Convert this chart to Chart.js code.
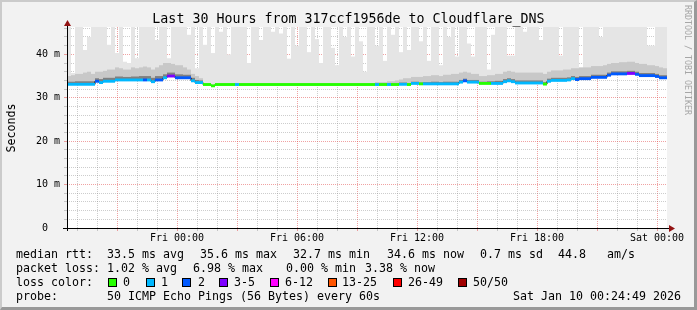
<!DOCTYPE html>
<html>
<head>
<meta charset="utf-8">
<title>Smokeping Cloudflare_DNS</title>
<script src="https://cdn.jsdelivr.net/npm/chart.js@4.4.1/dist/chart.umd.min.js"></script>
<style>
  html, body { margin: 0; padding: 0; background: #f2f2f2; }
  #page { position: relative; width: 697px; height: 310px; overflow: hidden; background: #f2f2f2;
          font-family: "DejaVu Sans Mono", monospace; color: #000; }
  #chart { position: absolute; left: 0; top: 0; }
  .title { position: absolute; left: 0; top: 11px; width: 697px; text-align: center;
           font-size: 13.3px; line-height: 16px; white-space: pre; }
  .ylabel { position: absolute; left: -19.5px; top: 121px; width: 60px; height: 14px; line-height: 14px;
            text-align: center; font-size: 11.63px; transform: rotate(-90deg); }
  .mark { position: absolute; left: 683px; top: 5px; width: 10px; writing-mode: vertical-rl;
          font-size: 8.3px; line-height: 10px; color: #a6a6a6; white-space: pre; }
  .lg { position: absolute; font-size: 11.63px; line-height: 14px; white-space: pre; }
  .sw { position: absolute; width: 9px; height: 9px; box-sizing: border-box; border: 1px solid #000; top: 278px; }
  .frame { position: absolute; left: 0; top: 0; width: 697px; height: 310px; box-sizing: border-box;
           border-style: solid; border-width: 2px 3px 3px 2px; border-color: #cbcbcb #999 #999 #cbcbcb;
           pointer-events: none; }
</style>
</head>
<body>
<div id="page">
  <canvas id="chart" width="697" height="310"></canvas>
  <div class="title">Last 30 Hours from 317ccf1956de to Cloudflare_DNS</div>
  <div class="ylabel">Seconds</div>
  <div class="mark">RRDTOOL / TOBI OETIKER</div>

  <div class="lg" style="left:16px;top:247px">median rtt:</div>
  <div class="lg" style="left:107px;top:247px">33.5 ms avg</div>
  <div class="lg" style="left:200px;top:247px">35.6 ms max</div>
  <div class="lg" style="left:293px;top:247px">32.7 ms min</div>
  <div class="lg" style="left:387px;top:247px">34.6 ms now</div>
  <div class="lg" style="left:480px;top:247px">0.7 ms sd</div>
  <div class="lg" style="left:558px;top:247px">44.8   am/s</div>

  <div class="lg" style="left:16px;top:261px">packet loss:</div>
  <div class="lg" style="left:107px;top:261px">1.02 % avg</div>
  <div class="lg" style="left:193px;top:261px">6.98 % max</div>
  <div class="lg" style="left:286px;top:261px">0.00 % min</div>
  <div class="lg" style="left:365px;top:261px">3.38 % now</div>

  <div class="lg" style="left:16px;top:275px">loss color:</div>
  <div id="lossLegend"></div>

  <div class="lg" style="left:16px;top:289px">probe:</div>
  <div class="lg" style="left:107px;top:289px">50 ICMP Echo Pings (56 Bytes) every 60s</div>
  <div class="lg" style="left:513px;top:289px">Sat Jan 10 00:24:49 2026</div>

  <div class="frame"></div>
</div>

<script>
// 150 steps of 12 minutes, first step starts Thu 18:30 (-330 min from Fri 00:00)
const startMin = -330;
const stepMin = 12;

// median rtt in ms
const median = [
  33.1, 33.1, 33.1, 33.1, 33.1, 33.1, 33.1, 33.8, 33.5, 33.8,
  33.8, 33.8, 34.1, 34.1, 34.1, 34.1, 34.1, 34.1, 34.1, 34.1,
  34.1, 33.7, 34.1, 34.1, 34.6, 35.0, 35.0, 34.6, 34.6, 34.6,
  34.6, 33.9, 33.5, 33.5, 33.05, 33.05, 32.75, 33.05, 33.05, 33.05,
  33.05, 33.05, 33.05, 33.05, 33.05, 33.05, 33.05, 33.05, 33.05, 33.05,
  33.05, 33.05, 33.05, 33.05, 33.05, 33.05, 33.05, 33.05, 33.05, 33.05,
  33.05, 33.05, 33.05, 33.05, 33.05, 33.05, 33.05, 33.05, 33.05, 33.05,
  33.05, 33.05, 33.05, 33.05, 33.05, 33.05, 33.05, 33.05, 33.05, 33.05,
  33.05, 33.05, 33.05, 33.1, 33.1, 33.05, 33.3, 33.3, 33.2, 33.2,
  33.2, 33.2, 33.2, 33.2, 33.2, 33.2, 33.2, 33.2, 33.6, 33.9,
  33.6, 33.6, 33.6, 33.3, 33.3, 33.3, 33.3, 33.3, 33.3, 33.7,
  33.9, 33.7, 33.4, 33.4, 33.4, 33.4, 33.4, 33.4, 33.4, 33.15,
  33.8, 34.0, 34.0, 34.0, 34.0, 34.1, 34.4, 34.2, 34.4, 34.4,
  34.4, 34.7, 34.7, 34.7, 34.7, 35.2, 35.5, 35.5, 35.5, 35.5,
  35.6, 35.6, 35.4, 35.1, 35.1, 35.1, 35.1, 34.9, 34.6, 34.6
];

// lost pings (of 50) per step
const loss = [
  1, 1, 1, 1, 1, 1, 1, 2, 1, 1,
  1, 1, 1, 1, 1, 1, 1, 1, 1, 2,
  1, 1, 2, 2, 1, 3, 3, 2, 2, 2,
  2, 1, 1, 1, 0, 0, 0, 0, 0, 0,
  0, 0, 1, 0, 0, 0, 0, 0, 0, 0,
  0, 0, 0, 0, 0, 0, 0, 0, 0, 0,
  0, 0, 0, 0, 0, 0, 0, 0, 0, 0,
  0, 0, 0, 0, 0, 0, 0, 1, 0, 0,
  1, 0, 0, 1, 1, 0, 1, 1, 0, 1,
  1, 1, 1, 1, 1, 1, 1, 1, 1, 2,
  1, 1, 1, 0, 0, 0, 1, 1, 1, 1,
  1, 1, 1, 1, 1, 1, 1, 1, 1, 0,
  1, 1, 1, 1, 1, 1, 1, 2, 2, 2,
  2, 2, 2, 2, 2, 2, 2, 2, 2, 2,
  3, 3, 2, 2, 2, 2, 2, 2, 2, 2
];

// top of the light smoke (slowest ping), ms
const smokeTop = [
  46.3, 35.7, 46.3, 46.3, 41.0, 44.0, 46.3, 46.3, 46.3, 46.3,
  42.2, 46.3, 40.3, 46.3, 38.3, 38.0, 46.3, 39.1, 46.3, 46.3,
  46.3, 46.3, 43.3, 46.3, 46.3, 39.1, 46.3, 46.3, 46.3, 46.3,
  44.5, 46.3, 36.8, 46.3, 42.2, 46.3, 40.3, 46.3, 45.2, 46.3,
  40.0, 46.3, 46.3, 46.3, 46.3, 38.0, 46.3, 46.3, 43.3, 46.3,
  46.3, 45.2, 46.3, 44.8, 46.3, 39.0, 46.3, 42.0, 46.3, 46.3,
  40.5, 46.3, 43.5, 38.0, 46.3, 46.3, 41.5, 37.5, 46.3, 44.0,
  46.3, 39.5, 46.3, 43.0, 36.0, 46.3, 46.3, 42.0, 46.3, 38.5,
  46.3, 44.5, 46.3, 40.5, 46.3, 41.0, 46.3, 46.3, 43.0, 46.3,
  38.5, 46.3, 46.3, 37.5, 46.3, 44.0, 46.3, 39.5, 46.3, 46.3,
  42.5, 39.5, 46.3, 46.3, 46.3, 36.5, 44.5, 46.3, 46.3, 46.3,
  39.7, 39.7, 46.3, 46.3, 45.2, 46.3, 46.3, 46.3, 43.3, 46.3,
  46.3, 46.3, 46.3, 39.7, 46.3, 46.3, 46.3, 46.3, 36.9, 46.3,
  46.3, 46.3, 46.3, 44.0, 46.3, 46.3, 46.3, 46.3, 46.3, 46.3,
  46.3, 46.3, 46.3, 46.3, 46.3, 42.0, 42.0, 46.3, 46.3, 46.3
];

// top of the medium smoke, ms
const smokeMid = [
  35.0, 35.2, 35.5, 35.5, 35.8, 36.0, 35.5, 36.0, 36.0, 36.2,
  36.5, 36.5, 37.0, 36.8, 36.5, 36.5, 37.0, 36.8, 37.0, 37.2,
  37.0, 36.5, 37.0, 37.5, 38.0, 38.0, 37.8, 37.5, 37.5, 37.0,
  36.5, 35.5, 35.0, 34.5, 33.3, 33.3, 33.0, 33.3, 33.3, 33.3,
  33.3, 33.3, 33.3, 33.3, 33.3, 33.3, 33.3, 33.3, 33.3, 33.3,
  33.3, 33.3, 33.3, 33.3, 33.3, 33.3, 33.3, 33.3, 33.3, 33.3,
  33.3, 33.3, 33.3, 33.3, 33.3, 33.3, 33.3, 33.3, 33.3, 33.3,
  33.3, 33.3, 33.3, 33.3, 33.3, 33.3, 33.3, 33.6, 33.6, 33.6,
  33.8, 33.8, 34.0, 34.2, 34.5, 34.5, 34.8, 34.8, 34.8, 35.0,
  35.0, 35.2, 35.2, 35.0, 35.3, 35.3, 35.5, 35.5, 35.8, 36.0,
  35.8, 35.5, 35.5, 35.0, 35.0, 35.2, 35.2, 35.5, 35.5, 36.0,
  36.2, 36.0, 35.8, 35.8, 35.8, 35.8, 35.8, 35.8, 35.8, 35.5,
  36.0, 36.3, 36.3, 36.3, 36.5, 36.5, 36.8, 36.8, 37.0, 37.0,
  37.0, 37.3, 37.3, 37.3, 37.5, 37.8, 38.0, 38.0, 38.2, 38.2,
  38.3, 38.3, 38.0, 37.8, 37.8, 37.5, 37.5, 37.3, 37.0, 36.8
];

// top of the dense smoke just above the median, ms
const smokeDark = [
  33.7, 33.7, 33.8, 33.8, 33.8, 33.8, 33.8, 34.5, 34.3, 34.6,
  34.6, 34.6, 34.9, 34.9, 34.8, 34.8, 34.9, 34.9, 35.0, 35.0,
  35.0, 34.6, 35.0, 35.0, 35.4, 35.8, 35.8, 35.4, 35.4, 35.3,
  35.3, 34.6, 34.1, 34.0, 33.2, 33.2, 32.9, 33.2, 33.2, 33.2,
  33.2, 33.2, 33.2, 33.2, 33.2, 33.2, 33.2, 33.2, 33.2, 33.2,
  33.2, 33.2, 33.2, 33.2, 33.2, 33.2, 33.2, 33.2, 33.2, 33.2,
  33.2, 33.2, 33.2, 33.2, 33.2, 33.2, 33.2, 33.2, 33.2, 33.2,
  33.2, 33.2, 33.2, 33.2, 33.2, 33.2, 33.2, 33.3, 33.3, 33.3,
  33.4, 33.3, 33.3, 33.5, 33.5, 33.3, 33.7, 33.7, 33.5, 33.6,
  33.6, 33.7, 33.7, 33.6, 33.7, 33.7, 33.7, 33.7, 34.1, 34.4,
  34.1, 34.1, 34.1, 33.7, 33.7, 33.8, 33.8, 33.9, 33.9, 34.3,
  34.5, 34.3, 34.0, 34.0, 34.0, 34.0, 34.0, 34.0, 34.0, 33.6,
  34.4, 34.6, 34.6, 34.6, 34.6, 34.7, 35.0, 34.8, 35.0, 35.0,
  35.0, 35.3, 35.3, 35.3, 35.3, 35.8, 36.1, 36.1, 36.1, 36.1,
  36.2, 36.2, 36.0, 35.7, 35.7, 35.7, 35.7, 35.5, 35.2, 35.2
];

// axis labels
const xLabelTimes = [0, 360, 720, 1080, 1440];
const xTickLabels = ['Fri 00:00', 'Fri 06:00', 'Fri 12:00', 'Fri 18:00', 'Sat 00:00'];
const yLabelValues = [0, 10, 20, 30, 40];
const yTickLabels = ['0  ', '10 m', '20 m', '30 m', '40 m'];

// loss legend
const lossLabels = ['0', '1', '2', '3-5', '6-12', '13-25', '26-49', '50/50'];
const lossColors = ['#26ff00', '#00b8ff', '#0059ff', '#7e00ff', '#ff00ff', '#ff5500', '#ff0000', '#a10000'];
const lossUpper = [0, 1, 2, 5, 12, 25, 49, 50];

function lossColor(n) {
    const i = lossUpper.findIndex(u => n <= u);
    return lossColors[i < 0 ? lossColors.length - 1 : i];
}

// legend swatches
const swatchX = [108, 146, 182, 219, 270, 328, 393, 458];
const swatchLabelX = [123, 161, 198, 234, 285, 342, 408, 473];
const legendBox = document.getElementById('lossLegend');
lossLabels.forEach((label, i) => {
    const sw = document.createElement('div');
    sw.className = 'sw';
    sw.style.left = swatchX[i] + 'px';
    sw.style.background = lossColors[i];
    legendBox.appendChild(sw);
    const t = document.createElement('div');
    t.className = 'lg';
    t.style.left = swatchLabelX[i] + 'px';
    t.style.top = '275px';
    t.textContent = label;
    legendBox.appendChild(t);
});

const stepTime = i => startMin + stepMin * i + stepMin / 2;
const band = top => median.map((m, i) => ({ x: stepTime(i), y: [m, top[i]] }));

const barBase = {
    type: 'bar',
    grouped: false,
    barPercentage: 1,
    categoryPercentage: 1,
    borderWidth: 0,
    inflateAmount: 0
};

// white plotting canvas
const plotBack = {
    id: 'plotBack',
    beforeDraw(chart) {
        const { ctx, chartArea: a } = chart;
        ctx.save();
        ctx.fillStyle = '#fff';
        ctx.fillRect(a.left, a.top, a.right - a.left, a.bottom - a.top);
        ctx.restore();
    }
};

// axis lines with the little red arrows
const axisArrows = {
    id: 'axisArrows',
    afterDraw(chart) {
        const { ctx, chartArea: a } = chart;
        ctx.save();
        ctx.strokeStyle = '#000';
        ctx.lineWidth = 1;
        ctx.beginPath();
        ctx.moveTo(a.left - 4, a.bottom + 0.5);
        ctx.lineTo(a.right + 2, a.bottom + 0.5);
        ctx.moveTo(a.left + 0.5, a.bottom + 3);
        ctx.lineTo(a.left + 0.5, a.top - 2);
        ctx.stroke();
        ctx.fillStyle = '#931313';
        ctx.beginPath();
        ctx.moveTo(a.left - 3, a.top - 1);
        ctx.lineTo(a.left + 4, a.top - 1);
        ctx.lineTo(a.left + 0.5, a.top - 7);
        ctx.closePath();
        ctx.fill();
        ctx.beginPath();
        ctx.moveTo(a.right + 2, a.bottom - 3);
        ctx.lineTo(a.right + 2, a.bottom + 4);
        ctx.lineTo(a.right + 8, a.bottom + 0.5);
        ctx.closePath();
        ctx.fill();
        ctx.restore();
    }
};

const gridMinor = 'rgba(130,130,130,0.4)';
const gridMajor = 'rgba(225,70,70,0.5)';

Chart.defaults.font.family = '"DejaVu Sans Mono", monospace';
Chart.defaults.color = '#000';

new Chart(document.getElementById('chart'), {
    data: {
        datasets: [
            Object.assign({}, barBase, { order: 6, data: band(smokeTop), backgroundColor: '#e5e5e5' }),
            Object.assign({}, barBase, { order: 5, data: band(smokeMid), backgroundColor: '#c8c8c8' }),
            Object.assign({}, barBase, { order: 4, data: band(smokeDark), backgroundColor: '#808080' }),
            {
                type: 'line',
                order: 2,
                data: median.map((m, i) => ({ x: stepTime(i), y: m })),
                stepped: 'middle',
                borderColor: '#000',
                borderWidth: 1,
                pointRadius: 0
            },
            Object.assign({}, barBase, {
                order: 1,
                data: median.map((m, i) => ({ x: stepTime(i), y: [m - 0.33, m + 0.33] })),
                backgroundColor: loss.map(lossColor)
            })
        ]
    },
    options: {
        responsive: false,
        animation: false,
        events: [],
        layout: { padding: { top: 27, right: 30, left: 0, bottom: 0 } },
        plugins: { legend: { display: false }, tooltip: { enabled: false }, title: { display: false } },
        scales: {
            x: {
                type: 'linear',
                offset: false,
                min: startMin,
                max: startMin + stepMin * median.length,
                z: 1,
                afterFit: s => { s.height = 82; },
                afterBuildTicks: s => {
                    const t = [];
                    for (let v = -300; v <= 1440; v += 60) t.push({ value: v });
                    s.ticks = t;
                },
                grid: {
                    offset: false,
                    color: c => (c.tick && c.tick.value % 180 === 0 ? gridMajor : gridMinor),
                    tickLength: 3,
                    lineWidth: 1
                },
                border: { display: false, dash: [1, 1] },
                ticks: {
                    autoSkip: false,
                    maxRotation: 0,
                    padding: 1,
                    font: { size: 10 },
                    callback: v => {
                        const i = xLabelTimes.indexOf(v);
                        return i >= 0 ? xTickLabels[i] : '';
                    }
                }
            },
            y: {
                type: 'linear',
                min: 0,
                max: 46.3,
                z: 1,
                afterFit: s => { s.width = 67; },
                afterBuildTicks: s => {
                    const t = [];
                    for (let v = 0; v <= 46; v += 2) t.push({ value: v });
                    s.ticks = t;
                },
                grid: {
                    color: c => (c.tick && c.tick.value % 10 === 0 ? gridMajor : gridMinor),
                    tickLength: 3,
                    lineWidth: 1
                },
                border: { display: false, dash: [1, 1] },
                ticks: {
                    autoSkip: false,
                    padding: 4,
                    font: { size: 10 },
                    callback: v => {
                        const i = yLabelValues.indexOf(v);
                        return i >= 0 ? yTickLabels[i] : '';
                    }
                }
            }
        }
    },
    plugins: [plotBack, axisArrows]
});
</script>
</body>
</html>
